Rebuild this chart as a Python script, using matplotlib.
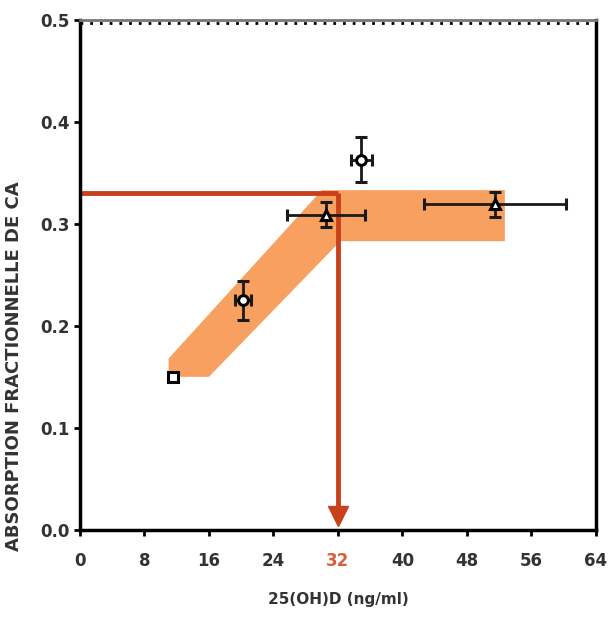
import numpy as np
import matplotlib.pyplot as plt
from matplotlib.patches import Polygon

# points (x, y, xerr, yerr, marker)
px = [11.5, 20.2, 30.5, 34.9, 51.5]
py = [0.150, 0.225, 0.309, 0.363, 0.319]
pxerr = [0.0, 1.0, 4.8, 1.3, 8.8]
pyerr = [0.0, 0.019, 0.012, 0.022, 0.012]
pmark = ['s', 'o', '^', 'o', '^']

# shaded band outline
band_x = [11.0, 16.0, 32.3, 52.7, 52.7, 30.0, 11.0]
band_y = [0.150, 0.150, 0.283, 0.283, 0.333, 0.333, 0.168]

thr_x = 32
thr_y = 0.33

xticks = [0, 8, 16, 24, 32, 40, 48, 56, 64]
yticks = [0.0, 0.1, 0.2, 0.3, 0.4, 0.5]

red = '#c9401c'

fig = plt.figure(figsize=(6.1, 6.19), dpi=100)
ax = fig.add_axes([0.131, 0.144, 0.846, 0.824])

ax.add_patch(Polygon(np.column_stack([band_x, band_y]), closed=True,
                     facecolor='#f8964f', edgecolor='none', alpha=0.9, zorder=1))

ax.plot([0, thr_x], [thr_y, thr_y], color=red, lw=3.5, zorder=2, solid_capstyle='butt')
ax.plot([thr_x, thr_x], [thr_y, 0.02], color=red, lw=3.5, zorder=2, solid_capstyle='butt')
ax.plot([thr_x], [0.014], marker='v', color=red, markersize=15, zorder=2, clip_on=False)

for x, y, xe, ye, m in zip(px, py, pxerr, pyerr, pmark):
    ax.errorbar(x, y, xerr=xe if xe else None, yerr=ye if ye else None,
                fmt=m, mfc='white', mec='black', mew=2.2, ms=7 if m != 's' else 6.5,
                ecolor='#1a1a1a', elinewidth=2, capsize=4, capthick=2, zorder=4)

ax.set_xlim(0, 64)
ax.set_ylim(0, 0.5)
ax.set_xticks(xticks)
ax.set_yticks(yticks)
ax.set_yticklabels(['%.1f' % v for v in yticks])

for s in ['left', 'right', 'bottom']:
    ax.spines[s].set_linewidth(2.5)
ax.spines['top'].set_color('#777777')
ax.spines['top'].set_linewidth(2.0)
ax.plot([0, 64], [0.497, 0.497], color='black', lw=2, ls=(0, (1, 2.5)), zorder=3, clip_on=False)

ax.tick_params(axis='both', direction='out', length=4, width=2, labelsize=12, colors='black',
               labelcolor='#333333')
ax.tick_params(axis='x', pad=12)
for lab in ax.get_xticklabels():
    lab.set_fontweight('bold')
    if lab.get_text() == '32':
        lab.set_color('#d9603a')
for lab in ax.get_yticklabels():
    lab.set_fontweight('bold')

ax.set_xlabel('25(OH)D (ng/ml)', fontsize=11, fontweight='bold', color='#333333', labelpad=16)
ax.set_ylabel('ABSORPTION FRACTIONNELLE DE CA', fontsize=13, fontweight='bold',
              color='#333333')
ax.yaxis.set_label_coords(-0.11, 0.32)

fig.savefig('out.png', dpi=100)
